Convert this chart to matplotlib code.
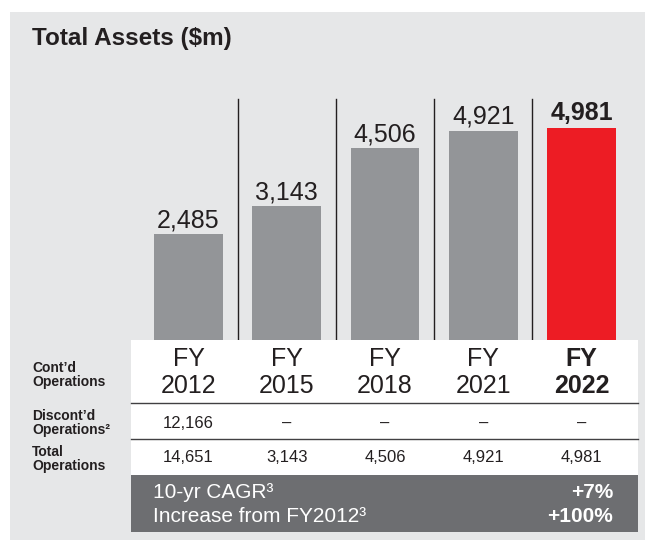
import matplotlib

matplotlib.use("Agg")
from matplotlib import pyplot as plt
from matplotlib import transforms
from matplotlib.patches import Rectangle

####################################################################################################
# Data                                                                                             #
####################################################################################################

years = ["2012", "2015", "2018", "2021", "2022"]
contd_assets = [2485, 3143, 4506, 4921, 4981]
discontd_labels = ["12,166", "\u2013", "\u2013", "\u2013", "\u2013"]
total_labels = ["14,651", "3,143", "4,506", "4,921", "4,981"]
row_labels = ["Cont\u2019d\nOperations", "Discont\u2019d\nOperations\u00b2", "Total\nOperations"]
summary_labels = ["10-yr CAGR\u00b3", "Increase from FY2012\u00b3"]
summary_values = ["+7%", "+100%"]

####################################################################################################
# Style                                                                                            #
####################################################################################################

W, H = 645, 544  # px
panel_color = "#e6e7e8"
bar_color = "#939598"
highlight_color = "#ed1c24"
box_color = "#6d6e71"
text_color = "#231f20"

plt.rcParams["font.family"] = ["Liberation Sans", "DejaVu Sans"]


def fx(x):
    return x / W


def fy(y):
    return 1 - y / H


fig = plt.figure(figsize=(W / 100, H / 100), dpi=100, facecolor="white")

# light grey panel behind everything
fig.patches.append(
    Rectangle((fx(10), fy(540)), fx(635), 528 / H, transform=fig.transFigure,
              facecolor=panel_color, edgecolor="none", zorder=-1)
)

fig.text(fx(32), fy(38), "Total Assets ($m)", fontsize=17.5, fontweight="bold",
         color=text_color, ha="left", va="center")

####################################################################################################
# Bars                                                                                             #
####################################################################################################

# bars grow from the top edge of the table (y = 339.5 px)
ax_left, ax_right, ax_top, ax_bottom = 139.4, 630.6, 90, 339.5
ax = fig.add_axes([fx(ax_left), fy(ax_bottom), (ax_right - ax_left) / W, (ax_bottom - ax_top) / H])
ax.set_xlim(-0.5, len(years) - 0.5)
ax.set_ylim(0, 5876)
ax.axis("off")

xs = list(range(len(years)))
colors = [bar_color] * (len(years) - 1) + [highlight_color]
ax.bar(xs, contd_assets, width=0.70, color=colors, zorder=2)

for i in xs[:-1]:
    ax.axvline(i + 0.5, ymin=0, ymax=0.964, color=text_color, lw=1.0, zorder=1)

for i, v in zip(xs, contd_assets):
    last = i == xs[-1]
    ax.annotate(f"{v:,}", (i, v), xytext=(0, 5.8 if last else 5), textcoords="offset points",
                ha="center", va="baseline", fontsize=18,
                fontweight="bold" if last else "normal", color=text_color)

####################################################################################################
# Table                                                                                            #
####################################################################################################

col = transforms.blended_transform_factory(ax.transData, fig.transFigure)

fig.patches.append(
    Rectangle((fx(131), fy(475)), fx(507), 135.5 / H, transform=fig.transFigure,
              facecolor="white", edgecolor="none", zorder=5)
)
fig.patches.append(
    Rectangle((fx(131), fy(532)), fx(507), 57 / H, transform=fig.transFigure,
              facecolor=box_color, edgecolor="none", zorder=5)
)
for y in (403, 439):
    fig.add_artist(plt.Line2D([fx(131), fx(638)], [fy(y), fy(y)], transform=fig.transFigure,
                              color="#414042", lw=1.0, zorder=6))

for i, year in enumerate(years):
    last = i == len(years) - 1
    weight = "bold" if last else "normal"
    fig.text(i, fy(359), "FY", transform=col, ha="center", va="center", fontsize=18,
             fontweight=weight, color=text_color, zorder=7)
    fig.text(i, fy(386), year, transform=col, ha="center", va="center", fontsize=18,
             fontweight=weight, color=text_color, zorder=7)
    fig.text(i, fy(423), discontd_labels[i], transform=col, ha="center", va="center",
             fontsize=12, color=text_color, zorder=7)
    fig.text(i, fy(458), total_labels[i], transform=col, ha="center", va="center",
             fontsize=12, color=text_color, zorder=7)

for label, y in zip(row_labels, (375, 423, 459)):
    fig.text(fx(32), fy(y), label, ha="left", va="center", fontsize=10, fontweight="bold",
             linespacing=1.0, color=text_color, zorder=7)

for label, value, y in zip(summary_labels, summary_values, (493, 517)):
    fig.text(fx(153), fy(y), label, ha="left", va="center", fontsize=15, color="white", zorder=7)
    fig.text(fx(613), fy(y), value, ha="right", va="center", fontsize=15, fontweight="bold",
             color="white", zorder=7)

fig.savefig("out.png", dpi=100, facecolor="white")
